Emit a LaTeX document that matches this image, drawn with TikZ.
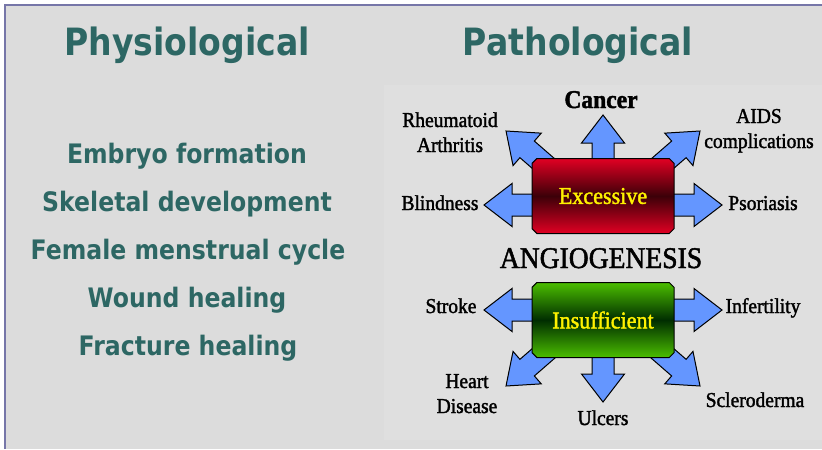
\documentclass[tikz,border=0pt]{standalone}
\usepackage{fontspec}
\usetikzlibrary{shapes.misc}

\newfontfamily\listfont[FakeStretch=0.88]{DejaVu Sans}
\newfontfamily\labelfont[FakeStretch=0.92,FakeBold=1.6]{Liberation Serif}

\definecolor{physio}{RGB}{45,103,100}
\definecolor{panel}{RGB}{220,220,220}
\definecolor{panelhi}{RGB}{223,223,223}
\definecolor{frameline}{RGB}{118,118,168}
\definecolor{arrowblue}{RGB}{100,150,255}
\definecolor{redhi}{RGB}{225,0,35}
\definecolor{redlo}{RGB}{60,0,8}
\definecolor{greenhi}{RGB}{75,190,0}
\definecolor{greenlo}{RGB}{0,45,0}

% fat arrow: tip, direction, length back from the tip
\newcommand{\blockarrow}[3]{%
  \draw[fatarrow, shift={#1}, rotate=#2] (0,0) -- (-28,21.5) -- (-28,11) -- (-#3,11)
    -- (-#3,-11) -- (-28,-11) -- (-28,-21.5) -- cycle;}

\begin{document}
\begin{tikzpicture}[x=0.5pt, y=-0.5pt,
  heading/.style={font=\listfont\bfseries\fontsize{18.8}{22}\selectfont, text=physio, anchor=base, inner sep=0},
  item/.style={font=\listfont\bfseries\fontsize{13.4}{16}\selectfont, text=physio, anchor=base, inner sep=0},
  disease/.style={font=\labelfont\fontsize{10.6}{12.5}\selectfont, align=center, anchor=base, inner sep=0},
  statebox/.style={chamfered rectangle, chamfered rectangle xsep=1.2pt, chamfered rectangle ysep=1.2pt,
    draw=black, line width=0.5pt, minimum width=71pt, minimum height=37.5pt, inner sep=0,
    font=\labelfont\fontsize{12}{14}\selectfont, text=yellow},
  fatarrow/.style={fill=arrowblue, draw=black, line width=0.5pt, line join=miter}]

  \useasboundingbox (0,0) rectangle (822,449);
  \fill[white] (0,0) rectangle (822,449);
  \fill[panel] (5,5) rectangle (822,449);
  \fill[panelhi] (384,85) rectangle (822,440);
  \draw[frameline, line width=0.6pt] (5,449) -- (5,5) -- (822,5);

  % normal processes
  \node[heading] (physio) at (187,55) {Physiological};
  \node[item] (embryo) at (187,163) {Embryo formation};
  \node[item] (skeletal) at (187,211) {Skeletal development};
  \node[item] (menstrual) at (188,259) {Female menstrual cycle};
  \node[item] (wound) at (187,307) {Wound healing};
  \node[item] (fracture) at (188,355) {Fracture healing};

  % disease side
  \node[heading] (patho) at (578,55) {Pathological};

  \blockarrow{(603,115)}{90}{55}
  \blockarrow{(506,131)}{139}{60}
  \blockarrow{(700,131)}{41}{60}
  \blockarrow{(484,205)}{180}{55}
  \blockarrow{(722,205)}{0}{55}

  \blockarrow{(484,310)}{180}{55}
  \blockarrow{(722,310)}{0}{55}
  \blockarrow{(506,386)}{-139}{60}
  \blockarrow{(700,386)}{-41}{60}
  \blockarrow{(603,402)}{-90}{55}

  \node[statebox, top color=redhi, bottom color=redhi, middle color=redlo] (excessive) at (603,196) {Excessive};
  \node[statebox, top color=greenhi, bottom color=greenhi, middle color=greenlo] (insufficient) at (603,320) {Insufficient};

  \node[disease, font=\labelfont\fontsize{15}{18}\selectfont] (angio) at (601,268) {ANGIOGENESIS};

  \node[disease, font=\labelfont\bfseries\fontsize{12.8}{15}\selectfont] (cancer) at (601,108) {Cancer};
  \node[disease] (rheuma) at (450,152) {Rheumatoid\\Arthritis};
  \node[disease] (aids) at (759,148) {AIDS\\complications};
  \node[disease] (blind) at (440,210) {Blindness};
  \node[disease] (psoriasis) at (763,210) {Psoriasis};

  \node[disease] (stroke) at (451,313) {Stroke};
  \node[disease] (infertility) at (763,313) {Infertility};
  \node[disease] (heart) at (467,413) {Heart\\Disease};
  \node[disease] (ulcers) at (603,425) {Ulcers};
  \node[disease] (sclero) at (755,407) {Scleroderma};
\end{tikzpicture}
\end{document}
